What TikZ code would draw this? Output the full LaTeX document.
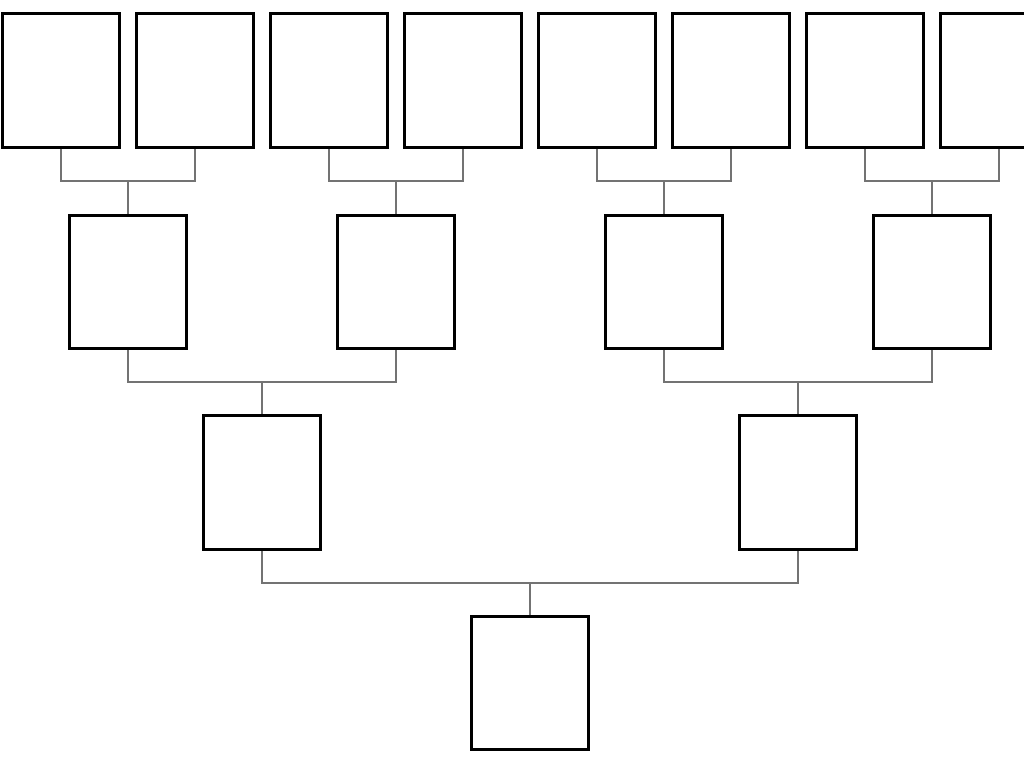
\documentclass[tikz,border=0pt]{standalone}
\begin{document}
\begin{tikzpicture}[x=0.75pt,y=-0.75pt,
  person/.style={draw=black,line width=2.4pt,fill=white,rectangle,inner sep=0pt,
    minimum width=87.75pt,minimum height=100pt},
  link/.style={draw=black!55,line width=1.6pt}]
\fill[white] (0,0) rectangle (1024,767);
\useasboundingbox (0,0) rectangle (1024,767);
\clip (0,0) rectangle (1024,767);
% top row
\foreach \i/\x in {1/61,2/195,3/329,4/463,5/597,6/731,7/865,8/999}
  \node[person] (t\i) at (\x,80.5) {};
% second row
\foreach \i/\x in {1/128,2/396,3/664,4/932}
  \node[person] (m\i) at (\x,282) {};
% third row
\node[person] (g1) at (262,482.5) {};
\node[person] (g2) at (798,482.5) {};
% bottom
\node[person] (b) at (530,683) {};
% junctions
\foreach \i in {1,2,3,4}
  \coordinate (jm\i) at (m\i.north |- 0,181);
\coordinate (jg1) at (g1.north |- 0,382);
\coordinate (jg2) at (g2.north |- 0,382);
\coordinate (jb) at (b.north |- 0,583);
% connectors
\draw[link] (t1.south) |- (jm1) -| (t2.south); \draw[link] (jm1) -- (m1.north);
\draw[link] (t3.south) |- (jm2) -| (t4.south); \draw[link] (jm2) -- (m2.north);
\draw[link] (t5.south) |- (jm3) -| (t6.south); \draw[link] (jm3) -- (m3.north);
\draw[link] (t7.south) |- (jm4) -| (t8.south); \draw[link] (jm4) -- (m4.north);
\draw[link] (m1.south) |- (jg1) -| (m2.south); \draw[link] (jg1) -- (g1.north);
\draw[link] (m3.south) |- (jg2) -| (m4.south); \draw[link] (jg2) -- (g2.north);
\draw[link] (g1.south) |- (jb) -| (g2.south); \draw[link] (jb) -- (b.north);
\end{tikzpicture}
\end{document}
